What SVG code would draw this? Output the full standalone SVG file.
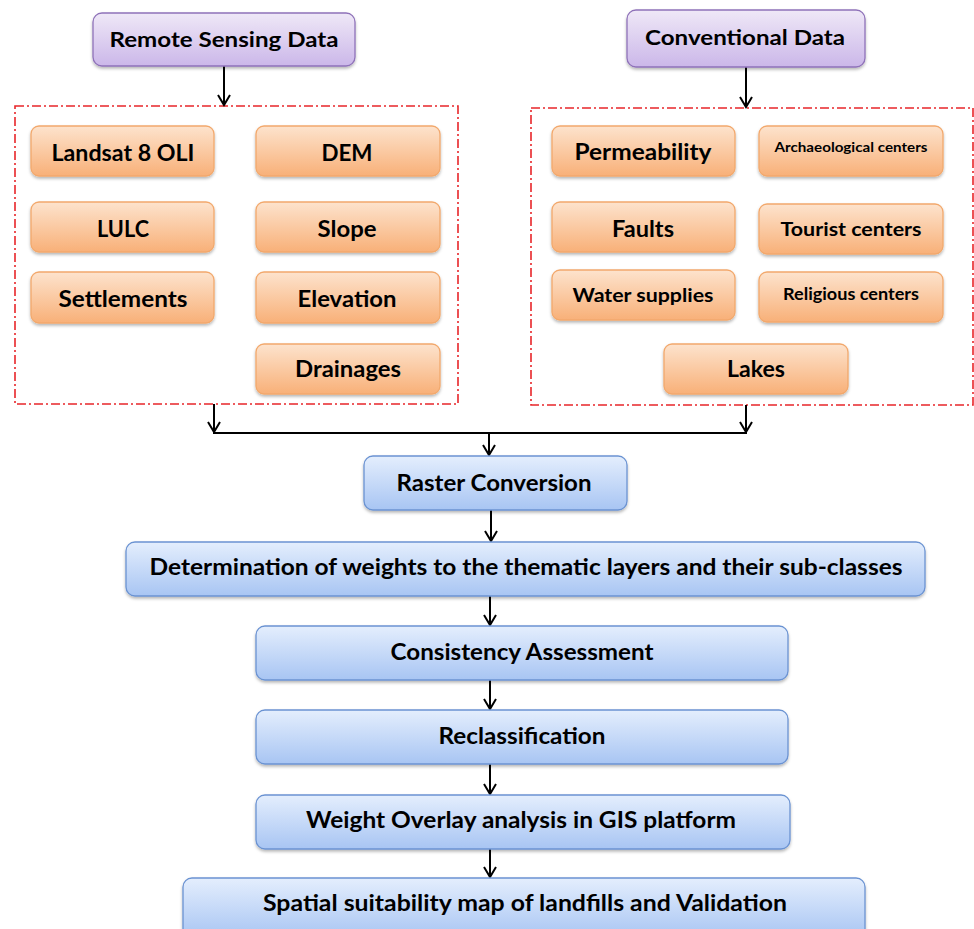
<svg xmlns="http://www.w3.org/2000/svg" width="974" height="929" viewBox="0 0 974 929">
<defs>
<linearGradient id="gP" x1="0" y1="0" x2="0" y2="1"><stop offset="0" stop-color="#efe8f7"/><stop offset="1" stop-color="#cbb7e9"/></linearGradient>
<linearGradient id="gO" x1="0" y1="0" x2="0" y2="1"><stop offset="0" stop-color="#fde3cd"/><stop offset="1" stop-color="#f8b078"/></linearGradient>
<linearGradient id="gB" x1="0" y1="0" x2="0" y2="1"><stop offset="0" stop-color="#e4eefd"/><stop offset="1" stop-color="#a8c5f3"/></linearGradient>
<filter id="sh" x="-5%" y="-10%" width="110%" height="130%"><feDropShadow dx="0" dy="2" stdDeviation="1.5" flood-color="#000" flood-opacity="0.28"/></filter>
<marker id="ah" markerUnits="userSpaceOnUse" markerWidth="14" markerHeight="14" viewBox="-12 -7 14 14" refX="0" refY="0" orient="auto"><path d="M-10,-6 L0,0 L-10,6" fill="none" stroke="#000" stroke-width="2"/></marker>
</defs>
<style>
.p{fill:url(#gP);stroke:#8f72b9;stroke-width:1.3;filter:url(#sh)}
.o{fill:url(#gO);stroke:#f2a86c;stroke-width:1.3;filter:url(#sh)}
.b{fill:url(#gB);stroke:#6b93d2;stroke-width:1.3;filter:url(#sh)}
text{font-family:Lato,"Open Sans","Liberation Sans",sans-serif;font-weight:bold;fill:#000;text-anchor:middle}
.frame{fill:none;stroke:#e8262a;stroke-width:1.6;stroke-dasharray:9 3 2 3}
.c{fill:none;stroke:#000;stroke-width:2}
</style>
<rect width="974" height="929" fill="#fff"/>

<g id="frames">
<rect class="frame" x="15" y="106" width="443" height="298"/>
<rect class="frame" x="531" y="108" width="442" height="297"/>
</g>

<g id="connectors">
<path class="c" d="M224,66 V105" marker-end="url(#ah)"/>
<path class="c" d="M746,67 V107" marker-end="url(#ah)"/>
<path class="c" d="M214,404 V432" marker-end="url(#ah)"/>
<path class="c" d="M746,405 V432" marker-end="url(#ah)"/>
<path class="c" d="M213,433 H747"/>
<path class="c" d="M489,433 V455" marker-end="url(#ah)"/>
<path class="c" d="M491,510 V541" marker-end="url(#ah)"/>
<path class="c" d="M490,596 V625" marker-end="url(#ah)"/>
<path class="c" d="M490,680 V709" marker-end="url(#ah)"/>
<path class="c" d="M490,764 V794" marker-end="url(#ah)"/>
<path class="c" d="M490,849 V877" marker-end="url(#ah)"/>
</g>

<g id="remote-sensing"><rect class="p" x="93" y="13" width="262" height="53" rx="9"/><text x="224" y="47" font-size="21" textLength="229" lengthAdjust="spacingAndGlyphs">Remote Sensing Data</text></g>
<g id="conventional"><rect class="p" x="627" y="10" width="238" height="57" rx="9"/><text x="745" y="45" font-size="21" textLength="200" lengthAdjust="spacingAndGlyphs">Conventional Data</text></g>

<g id="landsat"><rect class="o" x="31" y="126" width="183" height="50" rx="8"/><text x="123" y="161" font-size="23" textLength="143" lengthAdjust="spacingAndGlyphs">Landsat 8 OLI</text></g>
<g id="dem"><rect class="o" x="256" y="126" width="184" height="50" rx="8"/><text x="347" y="161" font-size="23" textLength="51" lengthAdjust="spacingAndGlyphs">DEM</text></g>
<g id="lulc"><rect class="o" x="31" y="202" width="183" height="50" rx="8"/><text x="123" y="237" font-size="23" textLength="52" lengthAdjust="spacingAndGlyphs">LULC</text></g>
<g id="slope"><rect class="o" x="256" y="202" width="184" height="50" rx="8"/><text x="347" y="237" font-size="23" textLength="59" lengthAdjust="spacingAndGlyphs">Slope</text></g>
<g id="settlements"><rect class="o" x="31" y="272" width="183" height="51" rx="8"/><text x="123" y="307" font-size="23" textLength="129" lengthAdjust="spacingAndGlyphs">Settlements</text></g>
<g id="elevation"><rect class="o" x="256" y="272" width="184" height="51" rx="8"/><text x="347" y="307" font-size="23" textLength="99" lengthAdjust="spacingAndGlyphs">Elevation</text></g>
<g id="drainages"><rect class="o" x="256" y="344" width="184" height="50" rx="8"/><text x="348" y="377" font-size="23" textLength="106" lengthAdjust="spacingAndGlyphs">Drainages</text></g>

<g id="permeability"><rect class="o" x="552" y="126" width="183" height="50" rx="8"/><text x="643" y="160" font-size="23" textLength="137" lengthAdjust="spacingAndGlyphs">Permeability</text></g>
<g id="archaeological"><rect class="o" x="759" y="126" width="184" height="50" rx="8"/><text x="851" y="152" font-size="14" textLength="153" lengthAdjust="spacingAndGlyphs">Archaeological centers</text></g>
<g id="faults"><rect class="o" x="552" y="202" width="183" height="50" rx="8"/><text x="643" y="237" font-size="23" textLength="62" lengthAdjust="spacingAndGlyphs">Faults</text></g>
<g id="tourist"><rect class="o" x="759" y="204" width="184" height="50" rx="8"/><text x="851" y="236" font-size="19" textLength="141" lengthAdjust="spacingAndGlyphs">Tourist centers</text></g>
<g id="water"><rect class="o" x="552" y="270" width="183" height="50" rx="8"/><text x="643" y="302" font-size="18" textLength="141" lengthAdjust="spacingAndGlyphs">Water supplies</text></g>
<g id="religious"><rect class="o" x="759" y="272" width="184" height="50" rx="8"/><text x="851" y="300" font-size="17" textLength="136" lengthAdjust="spacingAndGlyphs">Religious centers</text></g>
<g id="lakes"><rect class="o" x="664" y="344" width="184" height="50" rx="8"/><text x="756" y="377" font-size="23" textLength="58" lengthAdjust="spacingAndGlyphs">Lakes</text></g>

<g id="raster"><rect class="b" x="364" y="456" width="263" height="54" rx="9"/><text x="494" y="491" font-size="23" textLength="195" lengthAdjust="spacingAndGlyphs">Raster Conversion</text></g>
<g id="weights"><rect class="b" x="126" y="542" width="799" height="54" rx="9"/><text x="526" y="575" font-size="23" textLength="753" lengthAdjust="spacingAndGlyphs">Determination of weights to the thematic layers and their sub-classes</text></g>
<g id="consistency"><rect class="b" x="256" y="626" width="532" height="54" rx="9"/><text x="522" y="660" font-size="23" textLength="263" lengthAdjust="spacingAndGlyphs">Consistency Assessment</text></g>
<g id="reclass"><rect class="b" x="256" y="710" width="532" height="54" rx="9"/><text x="522" y="744" font-size="23" textLength="167" lengthAdjust="spacingAndGlyphs">Reclassification</text></g>
<g id="overlay"><rect class="b" x="256" y="795" width="534" height="54" rx="9"/><text x="521" y="828" font-size="23" textLength="430" lengthAdjust="spacingAndGlyphs">Weight Overlay analysis in GIS platform</text></g>
<g id="spatial"><rect class="b" x="183" y="878" width="682" height="60" rx="9"/><text x="525" y="911" font-size="23" textLength="524" lengthAdjust="spacingAndGlyphs">Spatial suitability map of landfills and Validation</text></g>
</svg>
